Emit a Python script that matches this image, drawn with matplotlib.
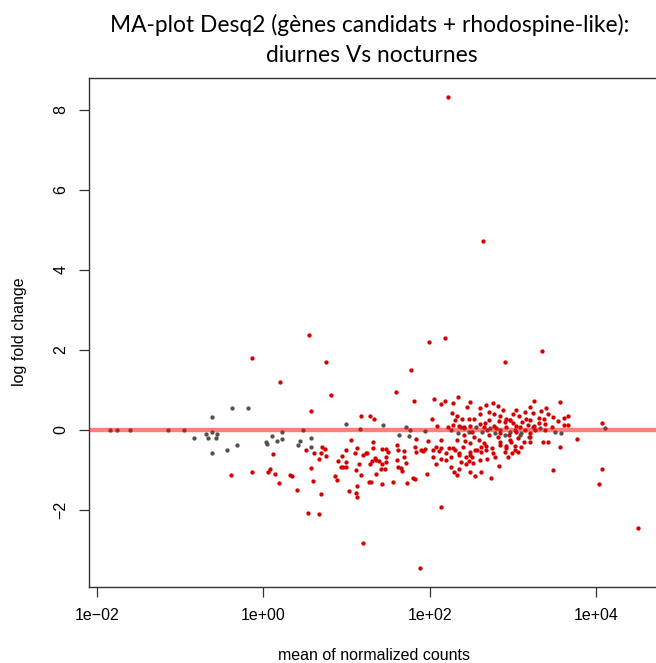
import numpy as np
import matplotlib
matplotlib.use('Agg')
import matplotlib.pyplot as plt
from matplotlib.ticker import FixedLocator, NullLocator

# log10(mean of normalized counts), log2 fold change
# genes non significatifs (gris)
nonsig_log10_mean = [
    -1.84, -1.75, -1.60, -1.14, -0.95,
    -0.61, -0.37, -0.18, -0.83, -0.69, -0.66, -0.61, -0.55, -0.57, -0.61, -0.43,
    -0.31, 0.03, 0.05, 0.11, 0.16,
    0.23, 0.23, 0.44, 0.42, 0.48, 0.57, 0.58, 0.99, 1.16, 1.44, 1.71, 1.76,
    1.63, 1.75, 1.94, 2.26, 2.34, 2.41,
    4.10, 2.37, 2.56, 2.69, 2.78, 2.85, 2.90, 3.02, 3.08, 3.19, 3.24, 3.33,
    3.58, 2.63, 2.73, 3.50, 2.47, 2.97, 3.10,
]
nonsig_lfc = [
    0.0, 0.0, 0.0, 0.0, 0.0,
    0.33, 0.55, 0.56, -0.20, -0.10, -0.21, -0.06, -0.09, -0.19, -0.58, -0.50,
    -0.38, -0.30, -0.34, -0.16, -0.28,
    -0.23, -0.06, -0.27, -0.37, 0.0, -0.20, -0.42, 0.16, 0.03, 0.12, 0.08, 0.0,
    -0.12, -0.15, -0.02, 0.0, -0.08, 0.04,
    0.04, 0.07, 0.08, 0.0, -0.08, 0.0, -0.12, 0.0, -0.12, -0.17, 0.08, 0.04,
    -0.08, -0.04, 0.04, -0.04, -0.04, -0.04, -0.08,
]

# genes significatifs (rouge)
sig_log10_mean = [
    2.22, 2.64, 1.20, 1.88,
    -0.13, 0.20, -0.39, -0.14, 0.12, 0.08, 0.06, 0.14, 0.19,
    0.55, 0.75, 0.82, 0.57, 1.99, 2.18, 1.77, 1.59, 1.81, 2.05, 2.18, 2.14,
    2.34, 2.27, 2.45, 2.33, 2.39, 2.47, 2.03, 2.09, 1.17, 1.28, 1.33, 2.22,
    2.28, 2.35, 2.41,
    0.52, 0.57, 0.61, 0.69, 0.71, 0.74, 0.75, 0.67, 0.32, 0.35, 0.60, 0.41,
    0.70, 0.54, 0.67, 0.86, 0.89, 0.90, 0.93, 0.96, 0.95, 1.00, 0.99, 1.05,
    0.99, 1.10, 1.13, 1.15, 1.11, 1.17, 1.03, 1.13, 1.12, 1.13, 1.20, 1.23,
    1.25, 1.32, 1.32, 1.34, 1.28, 1.31, 1.36, 1.39, 1.43, 1.41, 1.36, 1.27,
    1.30, 1.43, 1.43, 1.48, 1.47, 1.50, 1.48, 1.46, 1.56, 1.61, 1.62, 1.61,
    1.62, 1.66, 1.67, 1.69, 1.69, 1.71, 1.80, 1.82, 1.73, 1.83, 1.82, 1.84,
    1.89, 1.92, 1.94, 1.98, 1.97, 2.04, 2.08, 2.11, 2.14, 2.19, 2.23, 2.28,
    2.35, 2.35, 2.08, 2.14, 2.29, 2.33, 2.37, 2.44, 2.47, 2.42, 2.48, 2.14,
    3.35, 2.90, 3.25, 3.56, 2.76, 2.82, 3.14, 3.24, 3.34, 3.42, 3.48, 3.66,
    3.61, 3.54, 3.66, 3.61, 2.71, 2.60, 2.53, 2.71, 2.77, 2.85, 2.92, 3.00,
    3.07, 3.11, 3.16, 3.31, 3.37, 3.39, 3.47, 2.60, 2.65, 2.77, 2.83, 2.90,
    2.96, 3.00, 3.04, 3.18, 3.25, 3.31,
    3.77, 3.36, 3.42, 3.57, 3.48, 2.83, 2.74, 2.55, 2.35, 2.51, 2.48, 2.69,
    2.57, 2.62, 2.65, 2.75, 2.90, 2.92, 2.99, 3.03, 3.13, 3.20, 3.06, 2.96,
    2.82, 2.85, 2.53, 2.59, 2.41, 2.26, 4.07, 4.07, 4.03, 4.50,
    2.04, 2.13, 2.19, 2.25,
    # coeur dense du nuage
    2.48, 2.51, 2.66, 2.71, 2.80, 2.85, 2.92, 2.95, 3.04, 3.09, 3.14, 3.20,
    3.27, 3.38, 2.33, 2.30, 2.40, 2.48, 2.54, 2.62, 2.68, 2.76, 2.84, 2.92,
    2.98, 3.06, 3.10, 3.20, 2.60, 2.52, 2.44, 2.78, 2.94, 3.02, 2.48, 2.62,
    2.68, 2.30, 2.28, 2.48, 2.60, 2.68, 2.88, 3.04, 3.20, 3.40, 2.96, 3.20,
]
sig_lfc = [
    8.33, 4.73, -2.83, -3.45,
    1.80, 1.19, -1.12, -1.05, -0.61, -0.97, -1.05, -1.11, -1.33,
    2.37, 1.69, 0.87, 0.47, 2.19, 2.29, 1.51, 0.95, 0.72, 0.77, 0.72, 0.65,
    0.82, 0.42, 0.58, 0.34, 0.28, 0.28, 0.28, 0.11, 0.36, 0.34, 0.27, 0.07,
    0.13, 0.10, 0.08,
    -0.51, -0.95, -0.58, -0.57, -0.42, -0.48, -0.64, -0.73, -1.13, -1.14, -1.27, -1.49,
    -1.61, -2.07, -2.11, -1.14, -1.25, -0.78, -0.92, -0.92, -0.64, -0.92, -0.80, -0.26,
    -0.49, -0.57, -0.45, -0.84, -0.99, -1.13, -1.53, -1.41, -1.58, -1.67, -0.63, -0.58,
    -0.58, -0.46, -0.29, -0.69, -0.84, -0.77, -0.76, -0.78, -0.86, -0.97, -1.11, -1.31,
    -1.31, -1.34, -0.48, -0.47, -0.67, -0.56, -0.79, -0.97, -1.29, -0.38, -0.51, -0.75,
    -0.92, -0.94, -1.03, -0.68, -0.53, -0.83, -1.19, -1.22, -1.32, -0.23, -0.43, -0.56,
    -0.51, -0.52, -0.48, -0.28, -1.10, -0.51, -0.42, -0.53, -0.45, -0.57, -0.46, -0.45,
    -0.57, -0.63, -0.85, -0.24, -1.04, -1.13, -0.80, -0.85, -0.77, -0.28, -0.56, -1.93,
    1.98, 1.70, 0.72, 0.69, 0.67, 0.60, 0.45, 0.42, 0.47, 0.41, 0.33, 0.35,
    0.30, 0.22, 0.13, 0.13, 0.44, 0.39, 0.27, 0.26, 0.40, 0.35, 0.28, 0.41,
    0.34, 0.21, 0.28, 0.30, 0.27, 0.14, 0.07, 0.14, 0.08, 0.10, 0.22, 0.21,
    0.25, 0.17, 0.10, 0.12, 0.11, 0.17,
    -0.23, -0.31, -0.31, -0.42, -1.00, -0.89, -1.21, -1.14, -0.97, -0.67, -0.62, -0.73,
    -0.50, -0.42, -0.32, -0.45, -0.54, -0.46, -0.58, -0.40, -0.29, -0.18, -0.21, -0.25,
    -0.17, -0.29, -0.17, -0.25, -0.12, -0.67, 0.17, -0.98, -1.34, -2.46,
    -0.67, -0.72, -0.75, -0.93,
    0.10, -0.04, 0.17, -0.13, 0.04, -0.08, 0.08, -0.13, -0.04, 0.08, 0.0, -0.08,
    0.0, 0.0, -0.25, -0.50, -0.42, -0.33, -0.50, -0.54, -0.40, -0.58, -0.38, -0.40,
    -0.29, -0.54, -0.42, -0.29, -0.75, -0.83, -0.67, -0.67, -0.67, -0.50, -1.04, -1.04,
    -0.50, 0.25, 0.67, 0.71, 0.54, 0.63, 0.50, 0.50, 0.58, 0.54, 0.25, 0.25,
]

x_ticks = [1e-2, 1e0, 1e2, 1e4]
x_tick_labels = ['1e\u221202', '1e+00', '1e+02', '1e+04']
y_ticks = [-2, 0, 2, 4, 6, 8]
y_tick_labels = ['\u22122', '0', '2', '4', '6', '8']

W, H = 656, 663
fig = plt.figure(figsize=(W / 100, H / 100), dpi=100)
ax = fig.add_axes([89 / W, 76 / H, 570 / W, 509 / H])

ax.plot(10 ** np.array(nonsig_log10_mean), nonsig_lfc, 'o', color='#525252',
        ms=3.1, mec='none', zorder=2)
ax.plot(10 ** np.array(sig_log10_mean), sig_lfc, 'o', color='#d40000',
        ms=3.1, mec='none', zorder=2)
ax.axhline(0, color='#ff0000', alpha=0.5, lw=3.2, zorder=3)

ax.set_xscale('log')
ax.set_xlim(10 ** -2.092, 10 ** 4.754)
ax.set_ylim(-3.925, 8.8)

ax.xaxis.set_major_locator(FixedLocator(x_ticks))
ax.xaxis.set_minor_locator(NullLocator())
ax.set_xticklabels(x_tick_labels)
ax.set_yticks(y_ticks)
ax.set_yticklabels(y_tick_labels, rotation=90, va='center')

font = 'Liberation Sans'
for lab in ax.get_xticklabels() + ax.get_yticklabels():
    lab.set_fontfamily(font)
    lab.set_fontsize(11.5)
ax.tick_params(direction='out', length=7, width=0.9, color='#333333', pad=8)
for sp in ax.spines.values():
    sp.set_color('#333333')
    sp.set_linewidth(1.0)

fig.text(374 / W, 1 - 655 / H, 'mean of normalized counts', ha='center', va='center',
         family=font, fontsize=11.5)
fig.text(20 / W, 1 - 332 / H, 'log fold change', ha='center', va='center',
         rotation=90, family=font, fontsize=11.5)

fig.text(370 / W, 1 - 25 / H, 'MA-plot Desq2 (gènes candidats + rhodospine-like):',
         ha='center', va='center', family='Lato', fontsize=16.4)
fig.text(372 / W, 1 - 56 / H, 'diurnes Vs nocturnes',
         ha='center', va='center', family='Lato', fontsize=16.4)

fig.savefig('out.png', dpi=100)
